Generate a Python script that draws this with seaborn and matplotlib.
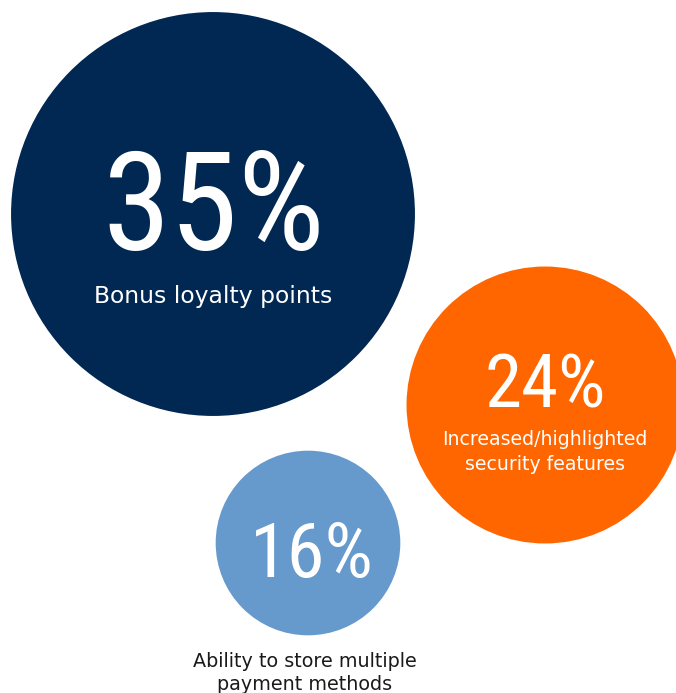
import pandas as pd
import seaborn as sns
import matplotlib.pyplot as plt

# Data
values = [35, 24, 16]
labels = ["Bonus loyalty points",
          "Increased/highlighted\nsecurity features",
          "Ability to store multiple\npayment methods"]

# Layout (pixel coords, y down) and style
DPI = 100
W, H = 676, 693
centers = [(213, 214), (545, 405), (308, 543)]
px_per_pct = 5.77
colors = ["#002852", "#FF6600", "#6699CC"]

df = pd.DataFrame({
    "label": labels,
    "value": values,
    "x": [c[0] for c in centers],
    "y": [c[1] for c in centers],
})
df["area"] = (2 * df["value"] * px_per_pct * 72 / DPI) ** 2

sns.set_theme(style="white")
fig = plt.figure(figsize=(W / DPI, H / DPI), dpi=DPI)
ax = fig.add_axes([0, 0, 1, 1])

sns.scatterplot(data=df, x="x", y="y", hue="label", palette=colors,
                size="label", sizes=dict(zip(df["label"], df["area"])),
                linewidth=0, legend=False, ax=ax, zorder=1)

ax.set_xlim(0, W)
ax.set_ylim(H, 0)
ax.set_axis_off()

num_font = ["Roboto Condensed", "DejaVu Sans"]
lbl_font = "DejaVu Sans"

# 35%
ax.text(214, 250, f"{values[0]}%", ha="center", va="baseline", color="white",
        fontsize=99, family=num_font)
ax.text(213, 296, labels[0], ha="center", va="center", color="white",
        fontsize=16.9, family=lbl_font)

# 24%
ax.text(545, 407, f"{values[1]}%", ha="center", va="baseline", color="white",
        fontsize=54, family=num_font)
ax.text(545, 452, labels[1], ha="center", va="center", color="white",
        fontsize=13.6, family=lbl_font, linespacing=1.4)

# 16%
ax.text(312, 577, f"{values[2]}%", ha="center", va="baseline", color="white",
        fontsize=55, family=num_font)
ax.text(305, 673, labels[2], ha="center", va="center", color="#1a1a1a",
        fontsize=13.8, family=lbl_font, linespacing=1.32)

fig.savefig("out.png", dpi=DPI)
